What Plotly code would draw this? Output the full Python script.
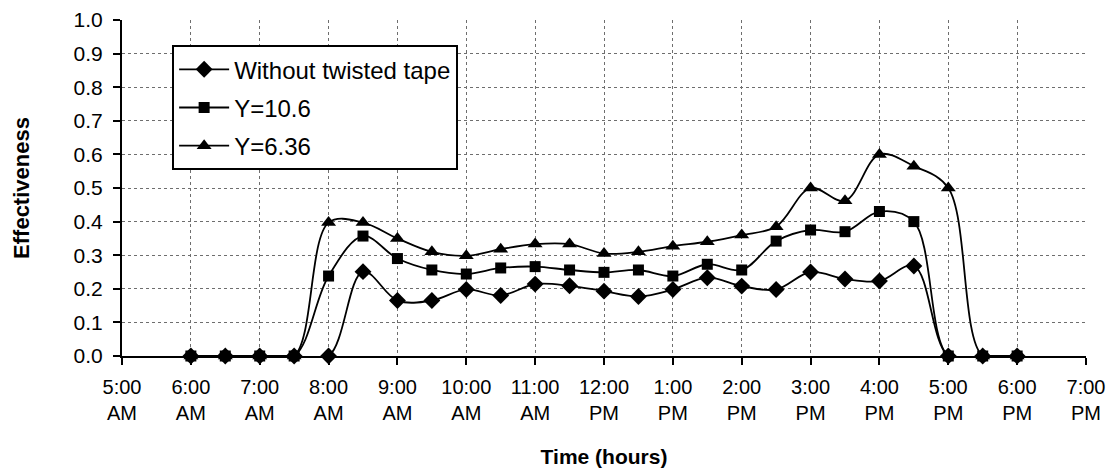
import plotly.graph_objects as go

# Time in hours (decimal), 6:00 AM to 6:00 PM every half hour
time_hours = [6.0, 6.5, 7.0, 7.5, 8.0, 8.5, 9.0, 9.5, 10.0, 10.5, 11.0, 11.5, 12.0,
              12.5, 13.0, 13.5, 14.0, 14.5, 15.0, 15.5, 16.0, 16.5, 17.0, 17.5, 18.0]

without_tape = [0, 0, 0, 0, 0, 0.251, 0.165, 0.165, 0.198, 0.18, 0.214, 0.209, 0.193,
                0.177, 0.198, 0.233, 0.208, 0.198, 0.25, 0.229, 0.223, 0.268, 0, 0, 0]
y_10_6 = [0, 0, 0, 0, 0.238, 0.357, 0.29, 0.256, 0.244, 0.262, 0.266, 0.256, 0.249,
          0.256, 0.238, 0.273, 0.256, 0.342, 0.375, 0.37, 0.43, 0.40, 0, 0, 0]
y_6_36 = [0, 0, 0, 0, 0.397, 0.397, 0.35, 0.31, 0.298, 0.318, 0.333, 0.333, 0.305,
          0.31, 0.327, 0.34, 0.36, 0.385, 0.50, 0.462, 0.60, 0.565, 0.50, 0, 0]

series_names = ["Without twisted tape", "Y=10.6", "Y=6.36"]
series_symbols = ["diamond", "square", "triangle-up"]
series_sizes = [13, 11, 13]

tick_vals = list(range(5, 20))
tick_text = ["5:00<br>AM", "6:00<br>AM", "7:00<br>AM", "8:00<br>AM", "9:00<br>AM",
             "10:00<br>AM", "11:00<br>AM", "12:00<br>PM", "1:00<br>PM", "2:00<br>PM",
             "3:00<br>PM", "4:00<br>PM", "5:00<br>PM", "6:00<br>PM", "7:00<br>PM"]

font_family = "Liberation Sans, Arial, sans-serif"

fig = go.Figure()
for name, vals, sym, sz in zip(series_names, [without_tape, y_10_6, y_6_36],
                               series_symbols, series_sizes):
    fig.add_trace(go.Scatter(
        x=time_hours, y=vals, name=name, mode="lines+markers",
        legendgroup=name,
        line=dict(color="black", width=1.8, shape="spline", smoothing=1),
        marker=dict(symbol=sym, size=sz, color="black"),
        cliponaxis=False,
    ))

fig.update_layout(
    width=1110, height=473,
    margin=dict(l=122, r=24, t=20, b=117),
    paper_bgcolor="white", plot_bgcolor="white",
    font=dict(family=font_family, color="black"),
    showlegend=True,
    legend=dict(
        x=0.052, y=0.925, xanchor="left", yanchor="top",
        bgcolor="white", bordercolor="black", borderwidth=2,
        font=dict(size=24, family=font_family, color="black"),
        itemwidth=50, tracegroupgap=4,
    ),
    xaxis=dict(
        range=[5, 19], tickmode="array", tickvals=tick_vals, ticktext=tick_text,
        automargin=False,
        showgrid=True, gridcolor="#6e6e6e", griddash="dot", gridwidth=1,
        showline=True, linecolor="black", linewidth=2,
        ticks="outside", ticklen=7, tickcolor="black", tickwidth=1.5,
        ticklabelstandoff=5,
        tickfont=dict(size=20, family=font_family, color="black"),
        zeroline=False,
        title=dict(text="<b>Time (hours)</b>", font=dict(size=21, family=font_family, color="black"),
                   standoff=26),
    ),
    yaxis=dict(
        range=[0, 1.0], tickmode="linear", tick0=0, dtick=0.1, tickformat=".1f",
        automargin=False,
        showgrid=True, gridcolor="#6e6e6e", griddash="dot", gridwidth=1,
        showline=True, linecolor="black", linewidth=2,
        ticks="outside", ticklen=7, tickcolor="black", tickwidth=1.5,
        ticklabelstandoff=6,
        tickfont=dict(size=21, family=font_family, color="black"),
        zeroline=False,
        title=dict(text="<b>Effectiveness</b>", font=dict(size=22, family=font_family, color="black"),
                   standoff=38),
    ),
)

fig.write_html("out.html")
